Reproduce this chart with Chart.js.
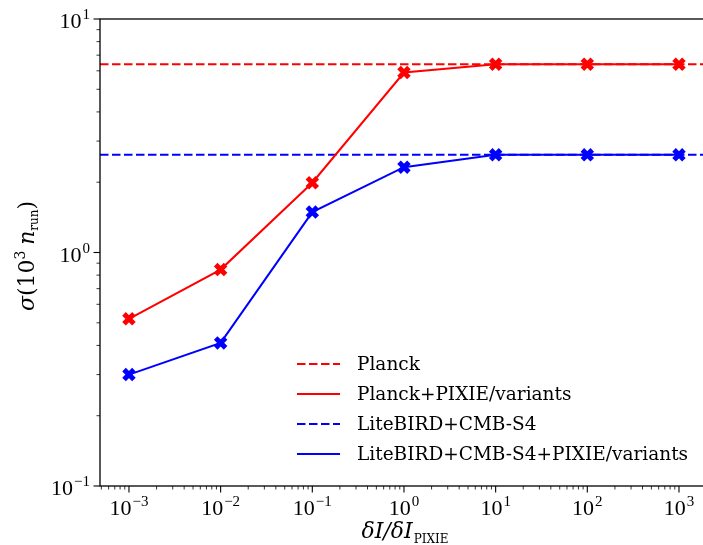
<!DOCTYPE html>
<html>
<head>
<meta charset="utf-8">
<script src="https://cdn.jsdelivr.net/npm/chart.js@4.4.0/dist/chart.umd.min.js"></script>
<style>
html, body { margin: 0; padding: 0; background: #fff; overflow: hidden; }
#wrap { position: absolute; left: 0; top: 0; width: 703px; height: 545px; }
#wrap canvas { display: block; }
</style>
</head>
<body>
<div id="wrap"><canvas id="chart"></canvas></div>
<script>
// values
var xValues = [1e-3, 1e-2, 1e-1, 1, 10, 100, 1000];
var planckPixie = [0.52, 0.845, 1.99, 5.9, 6.4, 6.4, 6.4];
var litebirdPixie = [0.30, 0.41, 1.49, 2.32, 2.62, 2.62, 2.62];
var planckLevel = 6.4;
var litebirdLevel = 2.62;
var legendLabels = ['Planck', 'Planck+PIXIE/variants', 'LiteBIRD+CMB-S4', 'LiteBIRD+CMB-S4+PIXIE/variants'];

var xMin = Math.pow(10, -3.316), xMax = Math.pow(10, 3.262);
var yMin = 0.1, yMax = 10;

var TICKFONT = '"Liberation Serif", serif';
var SERIF = '"DejaVu Serif", serif';

function logTicks(min, max) {
    var out = [];
    for (var d = Math.floor(Math.log10(min)); d <= Math.ceil(Math.log10(max)); d++) {
        for (var k = 1; k <= 9; k++) {
            var v = k * Math.pow(10, d);
            if (v >= min * 0.9999 && v <= max * 1.0001) out.push({ value: v, major: k === 1 });
        }
    }
    return out;
}

function pts(ys) {
    return xValues.map(function (x, i) { return { x: x, y: ys[i] }; });
}
function level(y) {
    return [{ x: xMin, y: y }, { x: xMax, y: y }];
}

// "10" with a raised exponent; anchor is 'center' or 'right'
function drawPow(ctx, v, x, baseline, anchor) {
    var e = Math.round(Math.log10(v));
    var exp = e < 0 ? '\u2212' + (-e) : String(e);
    ctx.font = '22px ' + TICKFONT;
    var wb = ctx.measureText('10').width;
    ctx.font = '15px ' + TICKFONT;
    var we = ctx.measureText(exp).width;
    var w = wb + 1 + we;
    var x0 = anchor === 'right' ? x - w : x - w / 2;
    ctx.font = '22px ' + TICKFONT;
    ctx.fillText('10', x0, baseline);
    ctx.font = '15px ' + TICKFONT;
    ctx.fillText(exp, x0 + wb + 1, baseline - 9);
}

var dashPattern = [8.5, 3.5];

var frame = {
    id: 'frame',
    afterDraw: function (chart) {
        var ctx = chart.ctx, a = chart.chartArea;
        var xs = chart.scales.x, ys = chart.scales.y;
        ctx.save();
        ctx.strokeStyle = '#000';
        ctx.fillStyle = '#000';
        ctx.lineWidth = 1.3;
        ctx.strokeRect(a.left, a.top, a.right - a.left + 2, a.bottom - a.top);

        // ticks, outward, with labels on the decades
        ctx.textBaseline = 'alphabetic';
        ctx.textAlign = 'left';
        xs.ticks.forEach(function (t) {
            var px = xs.getPixelForValue(t.value);
            ctx.lineWidth = t.major ? 1.1 : 0.8;
            ctx.beginPath();
            ctx.moveTo(px, a.bottom);
            ctx.lineTo(px, a.bottom + (t.major ? 6.5 : 3.5));
            ctx.stroke();
            if (t.major) drawPow(ctx, t.value, px, a.bottom + 29, 'center');
        });
        ys.ticks.forEach(function (t) {
            var py = ys.getPixelForValue(t.value);
            ctx.lineWidth = t.major ? 1.1 : 0.8;
            ctx.beginPath();
            ctx.moveTo(a.left, py);
            ctx.lineTo(a.left - (t.major ? 6.5 : 3.5), py);
            ctx.stroke();
            if (t.major) drawPow(ctx, t.value, a.left - 10, py + 9, 'right');
        });

        // legend (no frame)
        ctx.font = '18.5px ' + SERIF;
        ctx.textBaseline = 'middle';
        chart.data.datasets.forEach(function (ds, i) {
            var y = 364 + i * 30;
            ctx.strokeStyle = ds.borderColor;
            ctx.lineWidth = 2;
            ctx.setLineDash(ds.borderDash || []);
            ctx.beginPath();
            ctx.moveTo(297, y);
            ctx.lineTo(340, y);
            ctx.stroke();
            ctx.setLineDash([]);
            ctx.fillText(legendLabels[i], 357, y + 1);
        });

        // axis titles
        ctx.textBaseline = 'alphabetic';
        var cx = 405, by = 538;
        ctx.font = '12px ' + SERIF;
        var w2 = ctx.measureText('PIXIE').width;
        ctx.font = 'italic 22px ' + SERIF;
        var t1 = '\u03B4I/\u03B4I';
        var w1 = ctx.measureText(t1).width;
        var x0 = cx - (w1 + w2 + 1) / 2;
        ctx.fillText(t1, x0, by);
        ctx.font = '12px ' + SERIF;
        ctx.fillText('PIXIE', x0 + w1 + 1, by + 5);

        ctx.translate(34, 256);
        ctx.rotate(-Math.PI / 2);
        var parts = [
            { s: '\u03C3', f: 'italic 22px ', dy: 0 },
            { s: '(10', f: '22px ', dy: 0 },
            { s: '3', f: '14px ', dy: -9 },
            { s: ' ', f: '18px ', dy: 0 },
            { s: 'n', f: 'italic 22px ', dy: 0 },
            { s: 'run', f: '12px ', dy: 4 },
            { s: ')', f: '22px ', dy: 0 }
        ];
        var total = 0;
        parts.forEach(function (p) { ctx.font = p.f + SERIF; p.w = ctx.measureText(p.s).width; total += p.w; });
        var px = -total / 2;
        parts.forEach(function (p) {
            ctx.font = p.f + SERIF;
            ctx.fillText(p.s, px, p.dy);
            px += p.w;
        });
        ctx.restore();
    }
};

new Chart(document.getElementById('chart'), {
    type: 'line',
    data: {
        datasets: [{
            label: legendLabels[0],
            data: level(planckLevel),
            borderColor: '#ff0000',
            borderWidth: 2,
            borderDash: dashPattern,
            pointRadius: 0
        }, {
            label: legendLabels[1],
            data: pts(planckPixie),
            borderColor: '#ff0000',
            backgroundColor: '#ff0000',
            borderWidth: 2,
            pointStyle: 'crossRot',
            pointRadius: 7,
            pointBorderWidth: 5
        }, {
            label: legendLabels[2],
            data: level(litebirdLevel),
            borderColor: '#0000ff',
            borderWidth: 2,
            borderDash: dashPattern,
            pointRadius: 0
        }, {
            label: legendLabels[3],
            data: pts(litebirdPixie),
            borderColor: '#0000ff',
            backgroundColor: '#0000ff',
            borderWidth: 2,
            pointStyle: 'crossRot',
            pointRadius: 7,
            pointBorderWidth: 5
        }]
    },
    options: {
        responsive: true,
        maintainAspectRatio: false,
        animation: false,
        layout: { autoPadding: false, padding: { top: 19, right: 0, left: 0, bottom: 0 } },
        plugins: { legend: { display: false }, tooltip: { enabled: false } },
        scales: {
            x: {
                type: 'logarithmic',
                min: xMin,
                max: xMax,
                afterBuildTicks: function (s) { s.ticks = logTicks(xMin, xMax); },
                afterFit: function (s) { s.height = 59; s.paddingLeft = 0; s.paddingRight = 0; },
                grid: { display: false, drawTicks: false },
                border: { display: false },
                ticks: { display: false }
            },
            y: {
                type: 'logarithmic',
                min: yMin,
                max: yMax,
                afterBuildTicks: function (s) { s.ticks = logTicks(yMin, yMax); },
                afterFit: function (s) { s.width = 100; s.paddingTop = 0; s.paddingBottom = 0; },
                grid: { display: false, drawTicks: false },
                border: { display: false },
                ticks: { display: false }
            }
        }
    },
    plugins: [frame]
});
</script>
</body>
</html>
